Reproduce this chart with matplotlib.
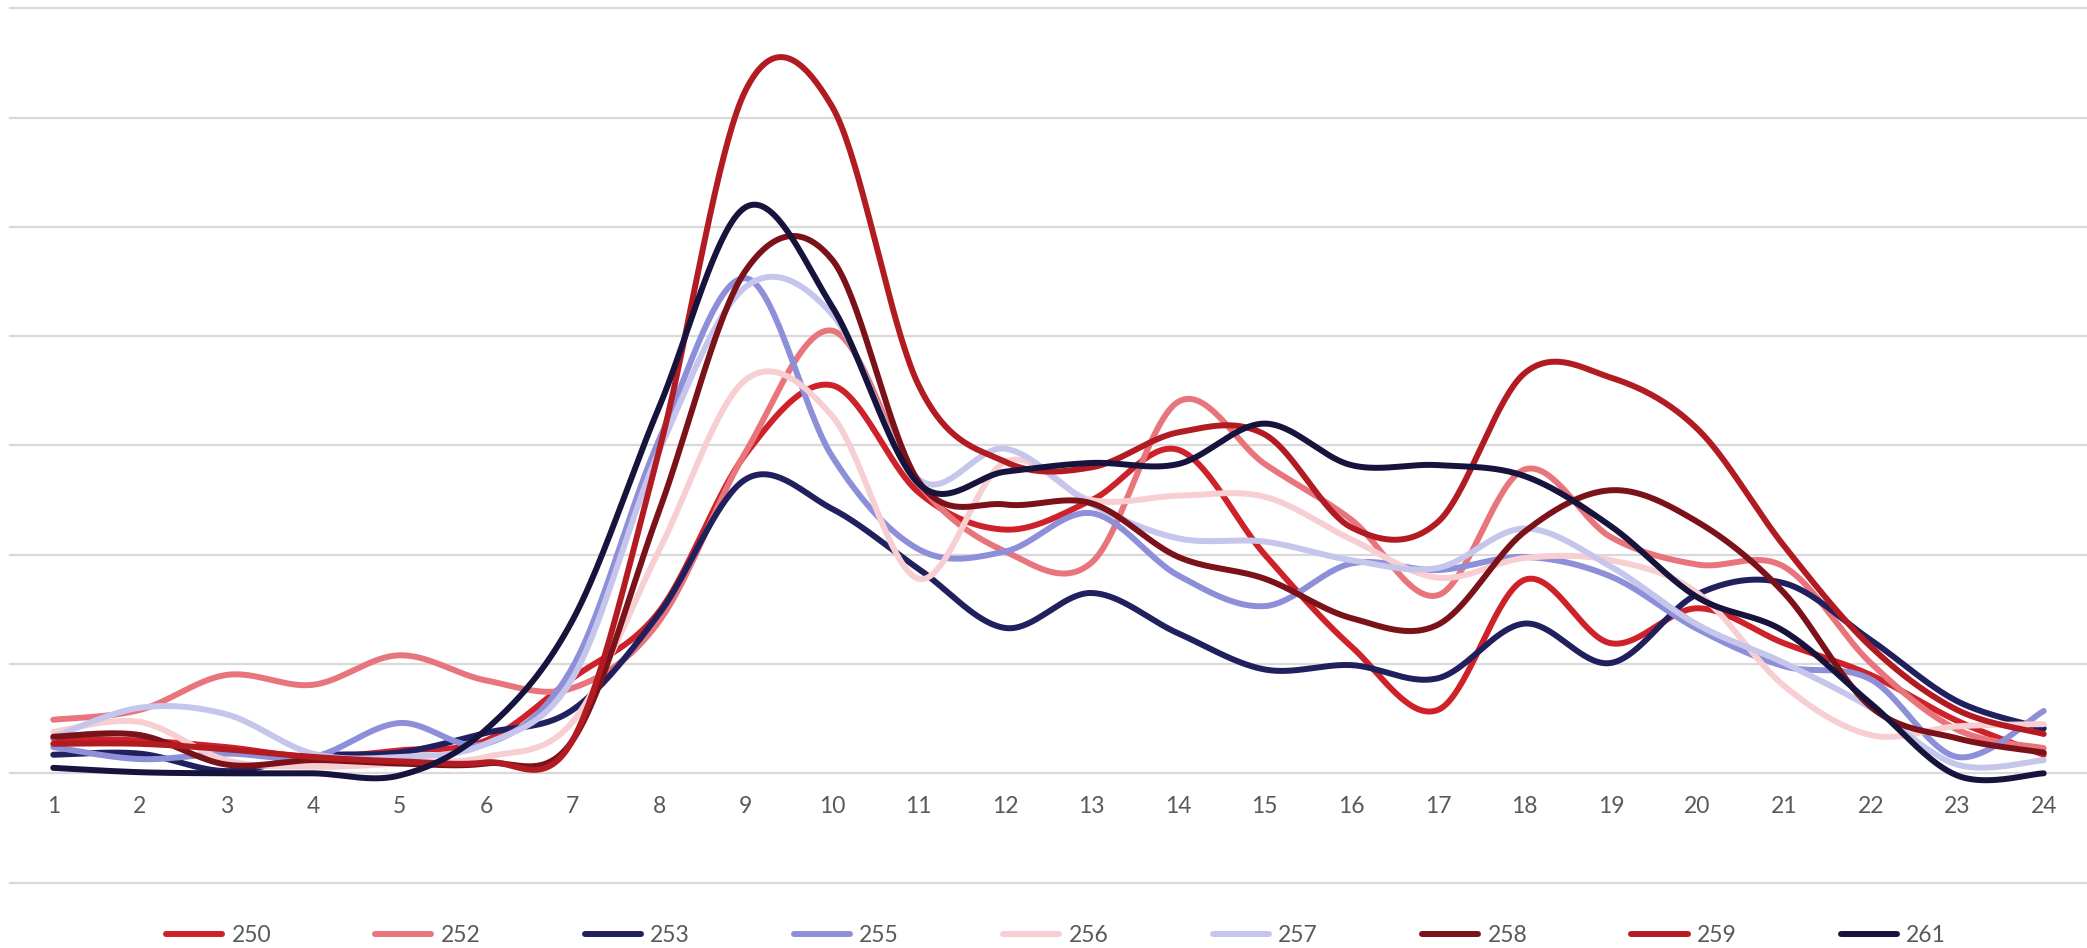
import numpy as np
import matplotlib
matplotlib.use("Agg")
import matplotlib.pyplot as plt

# Hour of day (category axis)
hours = list(range(1, 25))

# Series names and hourly values
series_names = ["250", "252", "253", "255", "256", "257", "258", "259", "261"]

v250 = [0.32, 0.30, 0.24, 0.15, 0.21, 0.30, 0.87, 1.48, 2.92, 3.55, 2.57, 2.23,
        2.50, 2.96, 2.00, 1.16, 0.58, 1.77, 1.19, 1.51, 1.19, 0.90, 0.48, 0.17]
v252 = [0.49, 0.58, 0.90, 0.81, 1.08, 0.85, 0.78, 1.39, 2.94, 4.05, 2.65, 2.03,
        1.93, 3.40, 2.83, 2.32, 1.63, 2.78, 2.16, 1.91, 1.89, 1.01, 0.40, 0.23]
v253 = [0.17, 0.18, 0.02, 0.16, 0.19, 0.37, 0.58, 1.46, 2.69, 2.42, 1.87, 1.33,
        1.65, 1.28, 0.95, 0.99, 0.87, 1.37, 1.01, 1.64, 1.74, 1.22, 0.66, 0.41]
v255 = [0.24, 0.13, 0.18, 0.15, 0.46, 0.27, 0.97, 3.05, 4.53, 2.90, 2.05, 2.03,
        2.38, 1.81, 1.53, 1.92, 1.86, 1.98, 1.80, 1.32, 0.98, 0.86, 0.15, 0.57]
v256 = [0.38, 0.47, 0.12, 0.06, 0.09, 0.15, 0.47, 2.04, 3.60, 3.27, 1.78, 2.85,
        2.50, 2.54, 2.53, 2.14, 1.79, 1.97, 1.95, 1.65, 0.80, 0.35, 0.43, 0.45]
v257 = [0.33, 0.60, 0.54, 0.18, 0.15, 0.27, 0.87, 2.95, 4.45, 4.20, 2.69, 2.97,
        2.46, 2.15, 2.12, 1.95, 1.88, 2.24, 1.89, 1.36, 1.01, 0.60, 0.08, 0.12]
v258 = [0.335, 0.35, 0.08, 0.12, 0.09, 0.09, 0.30, 2.40, 4.60, 4.70, 2.67, 2.46,
        2.47, 1.98, 1.78, 1.42, 1.36, 2.21, 2.59, 2.30, 1.65, 0.61, 0.32, 0.19]
v259 = [0.27, 0.27, 0.22, 0.15, 0.11, 0.10, 0.30, 2.95, 6.25, 6.10, 3.55, 2.85,
        2.80, 3.12, 3.10, 2.25, 2.30, 3.66, 3.62, 3.15, 2.08, 1.16, 0.58, 0.36]
v261 = [0.05, 0.01, 0.00, 0.00, -0.02, 0.40, 1.40, 3.35, 5.18, 4.27, 2.65, 2.76,
        2.84, 2.83, 3.20, 2.82, 2.82, 2.72, 2.26, 1.61, 1.30, 0.64, -0.02, 0.00]

series_values = [v250, v252, v253, v255, v256, v257, v258, v259, v261]

series_colors = ["#CF2129", "#E8747C", "#20205E", "#8E8FD9", "#F7CFD2",
                 "#C6C6EC", "#7B1219", "#B31B22", "#16133C"]


def smooth_curve(xs, ys, steps=40):
    """Piecewise cubic Bezier through the points (Catmull-Rom style tangents)."""
    pts = np.column_stack([xs, ys]).astype(float)
    n = len(pts)
    out = [pts[:1]]
    t = np.linspace(0.0, 1.0, steps)[1:, None]
    for i in range(n - 1):
        p0 = pts[i - 1] if i > 0 else pts[i]
        p1 = pts[i]
        p2 = pts[i + 1]
        p3 = pts[i + 2] if i + 2 < n else pts[i + 1]
        c1 = p1 + (p2 - p0) / 6.0
        c2 = p2 - (p3 - p1) / 6.0
        seg = ((1 - t) ** 3) * p1 + 3 * ((1 - t) ** 2) * t * c1 \
            + 3 * (1 - t) * (t ** 2) * c2 + (t ** 3) * p2
        out.append(seg)
    arr = np.vstack(out)
    return arr[:, 0], arr[:, 1]


plt.rcParams["font.family"] = ["Lato", "DejaVu Sans"]

W, H = 2087, 948
fig = plt.figure(figsize=(W / 100, H / 100), dpi=100)
fig.patch.set_facecolor("white")

ax = fig.add_axes([10 / W, (H - 882.6) / H, (W - 10) / W, (882.6 - 8.3) / H])
ax.set_xlim(0.5, 24.5)
ax.set_ylim(-1, 7)

# horizontal gridlines
ax.set_yticks(range(-1, 8))
ax.yaxis.grid(True, color="#D9D9D9", linewidth=1.6)
ax.set_axisbelow(True)
for gl in ax.get_ygridlines():
    gl.set_clip_on(False)
ax.tick_params(axis="y", left=False, labelleft=False)

# category labels sit under the zero line
for side in ["left", "right", "top"]:
    ax.spines[side].set_visible(False)
ax.spines["bottom"].set_position(("data", 0))
ax.spines["bottom"].set_color("none")
ax.set_xticks(hours)
ax.set_xticklabels([str(h) for h in hours])
ax.tick_params(axis="x", length=0, pad=16, labelsize=16.5, labelcolor="#595959")

handles = []
for name, vals, col in zip(series_names, series_values, series_colors):
    sx, sy = smooth_curve(hours, vals)
    ln, = ax.plot(sx, sy, color=col, linewidth=4.3, solid_capstyle="round",
                  solid_joinstyle="round", label=name, clip_on=False)
    handles.append(ln)

leg = fig.legend(handles, series_names, loc="center", bbox_to_anchor=(0.506, 0.0127),
                 ncol=9, frameon=False, fontsize=16.5, handlelength=2.45,
                 handletextpad=0.4, columnspacing=4.55)
for txt in leg.get_texts():
    txt.set_color("#595959")

fig.savefig("out.png", dpi=100, facecolor="white")
